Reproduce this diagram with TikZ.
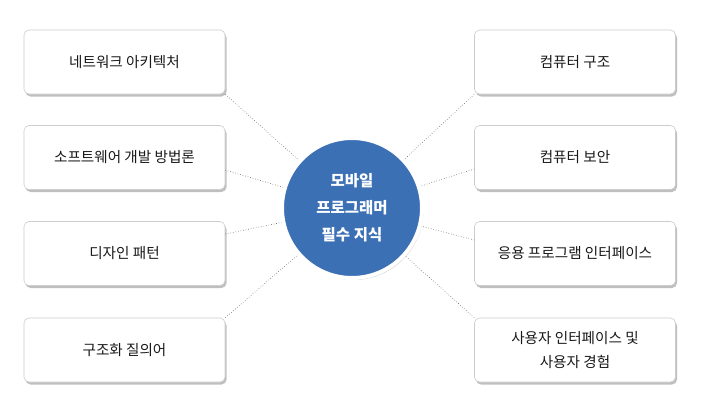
\documentclass[tikz,border=0pt]{standalone}
\usepackage{fontspec}
\setmainfont{Noto Sans CJK KR}
\usetikzlibrary{shadows}
\definecolor{hubblue}{RGB}{59,112,181}
\definecolor{boxline}{RGB}{205,205,205}
\definecolor{txt}{RGB}{25,25,25}
\definecolor{conn}{RGB}{100,100,100}
\begin{document}
\begin{tikzpicture}[x=1pt,y=-1pt,
  topic/.style={draw=boxline, line width=0.6pt, fill=white, rounded corners=5pt,
    minimum width=201pt, minimum height=64pt, inner sep=0pt, align=center,
    font=\fontsize{14.6}{24}\selectfont, text=txt,
    drop shadow={shadow xshift=1.5pt, shadow yshift=-2.5pt, opacity=0.5, fill=black!50}},
  hub/.style={circle, draw=white, line width=4pt, fill=hubblue, minimum size=140pt,
    inner sep=0pt, align=center, text=white,
    font=\fontsize{15.5}{27}\selectfont\bfseries,
    drop shadow={shadow xshift=1.5pt, shadow yshift=-2pt, opacity=0.4, fill=black!50}},
  link/.style={draw=conn, line width=0.6pt, dotted}]
\useasboundingbox (0,0) rectangle (705,408);
% left boxes
\node[topic] (l1) at (124.5,62) {네트워크 아키텍처};
\node[topic] (l2) at (124.5,157.5) {소프트웨어 개발 방법론};
\node[topic] (l3) at (124.5,253.5) {디자인 패턴};
\node[topic] (l4) at (124.5,350) {구조화 질의어};
% right boxes
\node[topic] (r1) at (575,62) {컴퓨터 구조};
\node[topic] (r2) at (575,157.5) {컴퓨터 보안};
\node[topic] (r3) at (575,253.5) {응용 프로그램 인터페이스};
\node[topic] (r4) at (575,350) {사용자 인터페이스 및\\사용자 경험};
% hub position
\coordinate (cc) at (352,208);
% link anchors
\coordinate (pl2) at ([yshift=-12.5pt]l2.east);
\coordinate (pl3) at ([yshift=19.5pt]l3.east);
\coordinate (pr2) at ([yshift=-11.5pt]r2.west);
\coordinate (pr3) at ([yshift=13.5pt]r3.west);
\draw[link] (l1.south east) -- (cc);
\draw[link] (pl2) -- (cc);
\draw[link] (pl3) -- (cc);
\draw[link] (l4.north east) -- (cc);
\draw[link] (r1.south west) -- (cc);
\draw[link] (pr2) -- (cc);
\draw[link] (pr3) -- (cc);
\draw[link] (r4.north west) -- (cc);
\node[hub] (c) at (cc) {모바일\\프로그래머\\필수 지식};
\end{tikzpicture}
\end{document}
